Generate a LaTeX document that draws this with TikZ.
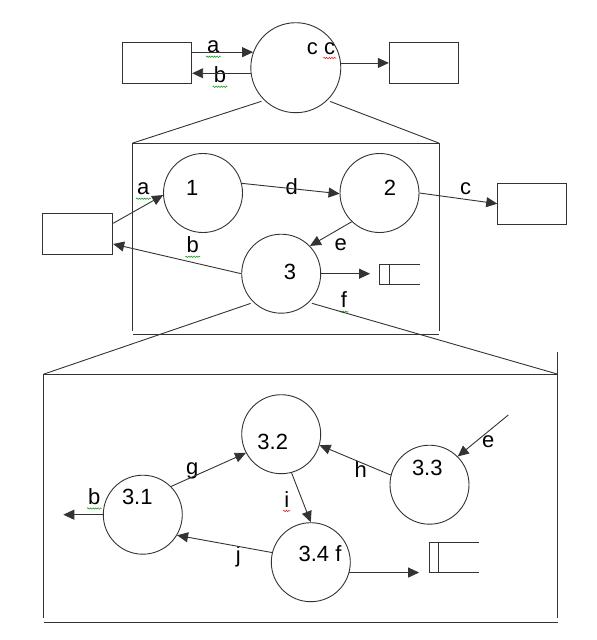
\documentclass[tikz,border=0pt]{standalone}
\usepackage{fontspec}
\setmainfont{Liberation Sans}
\usetikzlibrary{arrows.meta, positioning, calc, decorations.pathmorphing}

\begin{document}
\begin{tikzpicture}[x=1pt, y=-1pt,
    proc/.style={circle, draw=black!80, line width=0.9pt, minimum size=79pt, inner sep=0pt},
    ext/.style={rectangle, draw=black!80, line width=0.9pt, minimum width=69pt, minimum height=41pt, inner sep=0pt},
    frame/.style={inner sep=0pt},
    lbl/.style={inner sep=1pt, font=\fontsize{22}{25}\selectfont},
    edge/.style={draw=black!80, line width=0.9pt},
    flow/.style={edge, -{Triangle[length=11pt, width=10pt]}},
    spell/.style={draw=#1, line width=0.5pt, decorate, decoration={snake, amplitude=0.7pt, segment length=2.6pt}}]
    \useasboundingbox (0,0) rectangle (597,640);

    % context level
    \node[ext] (topL) at (157.2,63) {};
    \node[proc, minimum size=90pt] (ctx) at (295.8,67.7) {};
    \node[ext] (topR) at (423.8,63) {};
    \node[lbl] (ta) at (213.3,47) {a};
    \node[lbl] (tb) at (220,75) {b};
    \node[lbl] (tcc) at (321,48.3) {c c};
    \draw[flow] (topL.east |- ctx.160) -- (ctx.160);
    \draw[flow] (ctx.187) -- (topL.east |- ctx.187);
    \draw[flow] (ctx.6) -- (topR.west |- ctx.6);
    \draw[spell=green!60!black] ([yshift=-2.5pt]ta.south west) -- ([yshift=-2.5pt]ta.south east);
    \draw[spell=green!60!black] ([yshift=-2.5pt]tb.south west) -- ([yshift=-2.5pt]tb.south east);
    \draw[spell=red] ([yshift=-2.5pt,xshift=-13pt]tcc.south east) -- ([yshift=-2.5pt]tcc.south east);

    % level 1
    \node[frame, minimum width=306pt, minimum height=191pt] (mid) at (285.75,238.8) {};
    \draw[edge, shorten <=3pt] (ctx.226) -- (mid.north west);
    \draw[edge, shorten <=3pt] (ctx.314) -- (mid.north east);
    \draw[edge] (mid.north west) -- (mid.north east);
    \draw[edge] (mid.north west) -- ([yshift=4pt]mid.south west);
    \draw[edge] (mid.north east) -- ([yshift=4pt]mid.south east);
    \draw[edge] (mid.south west) -- (mid.south east);

    \node[proc] (p1) at (203,193) {};
    \node[proc] (p2) at (379.5,193) {};
    \node[proc] (p3) at (281.2,273.7) {};
    \node[ext, minimum width=70pt] (midL) at (77.7,233.8) {};
    \node[ext] (midR) at (532.2,203.7) {};
    \node[frame, minimum width=40pt, minimum height=19pt] (s1) at (399.3,274.5) {};
    \draw[edge] (s1.north east) -- (s1.north west) -- (s1.south west) -- (s1.south east);
    \draw[edge] ([xshift=10pt]s1.north west) -- ([xshift=10pt]s1.south west);

    \node[lbl] at (192.3,187.7) {1};
    \node[lbl] at (390,188.3) {2};
    \node[lbl] at (290,272.3) {3};
    \node[lbl] (ma) at (143.3,189) {a};
    \node[lbl] (mb) at (192.7,245) {b};
    \node[lbl] at (291.7,186.7) {d};
    \node[lbl] at (465.7,189) {c};
    \node[lbl] at (340.7,245) {e};
    \node[lbl] (mf) at (344,300) {f};

    \draw[flow] ($(midL.east)+(0,-10.5)$) -- (p1.183);
    \draw[flow] (p1.14) -- (p2.181);
    \draw[flow] (p2.0) -- (midR.west);
    \draw[flow] (p2.226) -- (p3.44);
    \draw[flow] (p3.180) -- ($(midL.east)+(0,10.2)$);
    \draw[flow, shorten >=9pt] (p3.0) -- (p3.0 -| s1.west);
    \draw[spell=green!60!black] ([yshift=-2.5pt]ma.south west) -- ([yshift=-2.5pt]ma.south east);
    \draw[spell=green!60!black] ([yshift=-2.5pt]mb.south west) -- ([yshift=-2.5pt]mb.south east);
    \draw[spell=green!60!black] ([yshift=-2.5pt]mf.south west) -- ([yshift=-2.5pt]mf.south east);

    % level 2
    \node[frame, minimum width=513.3pt, minimum height=248.4pt] (bot) at (300.65,498.5) {};
    \draw[edge, shorten <=3pt] (p3.226) -- (bot.north west);
    \draw[edge, shorten <=3pt] (p3.314) -- (bot.north east);
    \draw[edge] (bot.north west) -- (bot.north east);
    \draw[edge] (bot.north west) -- ([yshift=4.5pt]bot.south west);
    \draw[edge] ([yshift=22.6pt]bot.north east) -- ([yshift=4.5pt]bot.south east);
    \draw[edge] (bot.south west) -- (bot.south east);

    \node[proc] (p31) at (142.8,514.7) {};
    \node[proc] (p32) at (281.2,434.2) {};
    \node[proc] (p33) at (429.5,484.7) {};
    \node[proc] (p34) at (310.8,562.2) {};
    \node[frame, minimum width=49pt, minimum height=30pt] (s2) at (453.8,557.3) {};
    \draw[edge] (s2.north east) -- (s2.north west) -- (s2.south west) -- (s2.south east);
    \draw[edge] ([xshift=9.7pt]s2.north west) -- ([xshift=9.7pt]s2.south west);
    \coordinate (bout) at (63.3,514.7);
    \coordinate (ein) at (508.3,415);

    \node[lbl] at (137.3,496.7) {3.1};
    \node[lbl] at (272.7,441.7) {3.2};
    \node[lbl] at (427.3,468.3) {3.3};
    \node[lbl] at (320,553.3) {3.4 f};
    \node[lbl] (bb) at (94.3,496.7) {b};
    \node[lbl] at (192.3,470.7) {g};
    \node[lbl] at (360.7,469.3) {h};
    \node[lbl] (bi) at (286.7,499.3) {i};
    \node[lbl] at (238.3,556.7) {j};
    \node[lbl] at (488.3,441.7) {e};

    \draw[flow] (p31.180) -- (bout);
    \draw[flow] (p31.45) -- (p32.208);
    \draw[flow] (p33.166) -- (p32.344);
    \draw[flow] (p32.285) -- (p34.90);
    \draw[flow] (p34.166) -- (p31.329);
    \draw[flow] (ein) -- (p33.45);
    \draw[flow, shorten >=10pt] (p34.345) -- (p34.345 -| s2.west);
    \draw[spell=green!60!black] ([yshift=-2.5pt]bb.south west) -- ([yshift=-2.5pt]bb.south east);
    \draw[spell=red] ([yshift=-2.5pt]bi.south west) -- ([yshift=-2.5pt]bi.south east);
\end{tikzpicture}
\end{document}
